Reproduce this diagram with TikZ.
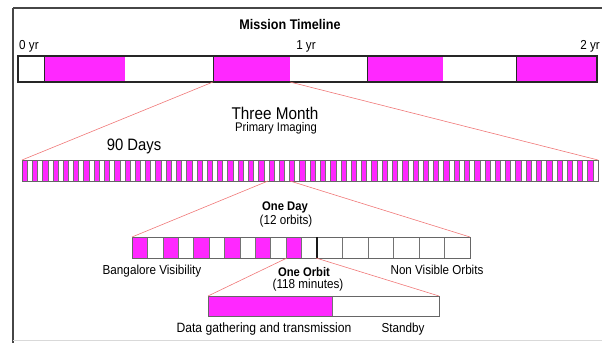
\documentclass[tikz,border=0pt]{standalone}
\usepackage{fontspec}
\setmainfont[FakeStretch=0.9]{Liberation Sans}
\definecolor{mag}{RGB}{255,40,255}
\definecolor{linkred}{RGB}{240,120,120}
\definecolor{framegray}{RGB}{70,70,70}
\begin{document}
\begin{tikzpicture}[x=1pt,y=-1pt,
  outline/.style={draw=black!85, line width=1pt},
  thin cell/.style={draw=black!55, line width=0.5pt},
  magfill/.style={fill=mag, draw=none},
  link/.style={draw=linkred, line width=0.6pt},
  lbl/.style={inner sep=0pt, anchor=base},
  fs/.style={font=\fontsize{#1}{#1}\selectfont},
  fb/.style={font=\fontsize{#1}{#1}\selectfont\bfseries}]
\useasboundingbox (0,0) rectangle (602,343);
% frame
\draw[framegray, line width=1.8pt] (13,8) -- (13,343);
\draw[framegray, line width=1.2pt] (13,8) -- (602,8);
\draw[black!15, line width=0.8pt] (13,340) -- (602,340);

% ---------- Mission timeline bar ----------
\fill[mag] (44,56) rectangle (125,82);
\fill[mag] (213,56) rectangle (290,82);
\fill[mag] (367,56) rectangle (443,82);
\fill[mag] (516,56) rectangle (597,82);
\foreach \x in {44,213,367,516} \draw[black!85, line width=1pt] (\x,56) -- (\x,82);
\draw[outline, line width=1.2pt] (18,56) rectangle (597,82);
\coordinate (mA) at (213,82);
\coordinate (mB) at (290,82);

\node[lbl, fb=14] (title) at (290,29) {Mission Timeline};
\node[lbl, fs=13] (y0) at (29,49) {0 yr};
\node[lbl, fs=13] (y1) at (306,49) {1 yr};
\node[lbl, fs=13] (y2) at (590,49) {2 yr};

% ---------- 90 days bar ----------
\foreach \i in {0,...,55} {
  \pgfmathsetmacro{\xa}{22+\i*10.2857}
  \pgfmathsetmacro{\xb}{\xa+5.2}
  \pgfmathsetmacro{\xc}{\xa+10.2857}
  \fill[mag] (\xa,160) rectangle (\xb,181);
  \draw[thin cell] (\xa,160) rectangle (\xb,181);
  \draw[thin cell] (\xb,160) rectangle (\xc,181);
}
\draw[draw=black!60, line width=0.7pt] (22,160) rectangle (598,181);
\coordinate (dL) at (22,160);
\coordinate (dR) at (598,160);
\coordinate (dA) at (268,181);
\coordinate (dB) at (290,181);
\draw[link] (mA) -- (dL);
\draw[link] (mB) -- (dR);

\node[lbl, fs=17] (three) at (275,119.5) {Three Month};
\node[lbl, fs=12.5] (prim) at (276,131.5) {Primary Imaging};
\node[lbl, fs=16.5] (ninety) at (134,150) {90 Days};

% ---------- One day bar ----------
\foreach \i in {0,...,5} {
  \pgfmathsetmacro{\xa}{132+\i*30.83}
  \pgfmathsetmacro{\xb}{\xa+15.4}
  \pgfmathsetmacro{\xc}{\xa+30.83}
  \fill[mag] (\xa,237) rectangle (\xb,258);
  \draw[thin cell] (\xa,237) rectangle (\xb,258);
  \draw[thin cell] (\xb,237) rectangle (\xc,258);
}
\foreach \i in {0,...,5} {
  \pgfmathsetmacro{\xa}{317+\i*25.5}
  \pgfmathsetmacro{\xc}{\xa+25.5}
  \draw[thin cell] (\xa,237) rectangle (\xc,258);
}
\draw[draw=black!60, line width=0.7pt] (132,237) rectangle (470,258);
\draw[black!90, line width=1.2pt] (317,237) -- (317,258);
\coordinate (oL) at (132,237);
\coordinate (oR) at (470,237);
\coordinate (oA) at (287,258);
\coordinate (oB) at (316,258);
\draw[link] (dA) -- (oL);
\draw[link] (dB) -- (oR);

\node[lbl, fb=12.5] (oneday) at (285,210) {One Day};
\node[lbl, fs=13] (twelve) at (286,224) {(12 orbits)};
\node[lbl, fs=13] (bang) at (152,274) {Bangalore Visibility};
\node[lbl, fs=12.9] (nonvis) at (437,274) {Non Visible Orbits};

% ---------- One orbit bar ----------
\fill[mag] (208,296) rectangle (332,316);
\draw[thin cell] (332,296) -- (332,316);
\draw[draw=black!60, line width=0.7pt] (208,296) rectangle (439,316);
\coordinate (rL) at (208,296);
\coordinate (rR) at (439,296);
\draw[link] (oA) -- (rL);
\draw[link] (oB) -- (rR);

\node[lbl, fb=12.5] (oneorbit) at (304,276) {One Orbit};
\node[lbl, fs=13] (mins) at (308,288.5) {(118 minutes)};
\node[lbl, fs=13.5] (data) at (264,332) {Data gathering and transmission};
\node[lbl, fs=13] (standby) at (403,332) {Standby};
\end{tikzpicture}
\end{document}
